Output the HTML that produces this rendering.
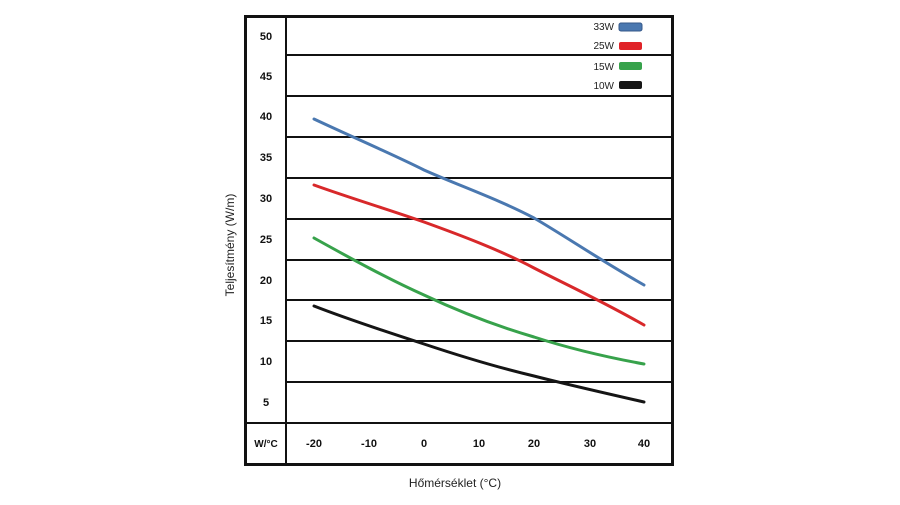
<!DOCTYPE html>
<html><head><meta charset="utf-8"><style>
body{margin:0;background:#fff;}
svg text{font-family:"Liberation Sans",sans-serif;}
.t{font-weight:bold;font-size:11px;text-anchor:middle;fill:#111}
</style></head><body>
<svg width="900" height="500" viewBox="0 0 900 500" xmlns="http://www.w3.org/2000/svg">
<rect x="0" y="0" width="900" height="500" fill="#fff"/>
<g stroke="#111" stroke-width="2">
<line x1="286" y1="16" x2="286" y2="465"/>
<line x1="286" y1="55" x2="673" y2="55"/>
<line x1="286" y1="96" x2="673" y2="96"/>
<line x1="286" y1="137" x2="673" y2="137"/>
<line x1="286" y1="178" x2="673" y2="178"/>
<line x1="286" y1="219" x2="673" y2="219"/>
<line x1="286" y1="260" x2="673" y2="260"/>
<line x1="286" y1="300" x2="673" y2="300"/>
<line x1="286" y1="341" x2="673" y2="341"/>
<line x1="286" y1="382" x2="673" y2="382"/>
<line x1="245" y1="423" x2="673" y2="423"/>
</g>
<rect x="245.5" y="16.5" width="427" height="448" fill="none" stroke="#111" stroke-width="3"/>
<g class="t">
<text x="266" y="40">50</text><text x="266" y="80">45</text><text x="266" y="120">40</text>
<text x="266" y="161">35</text><text x="266" y="202">30</text><text x="266" y="243">25</text>
<text x="266" y="284">20</text><text x="266" y="324">15</text><text x="266" y="365">10</text>
<text x="266" y="406">5</text><text x="266" y="447" style="font-size:10px">W/°C</text>
<text x="314" y="447">-20</text><text x="369" y="447">-10</text><text x="424" y="447">0</text>
<text x="479" y="447">10</text><text x="534" y="447">20</text><text x="590" y="447">30</text><text x="644" y="447">40</text>
</g>
<g fill="none" stroke-width="3" stroke-linecap="round" stroke-linejoin="round">
<path stroke="#4a78b0" d="M314,119 C350,136 390,153 424,170 C460,186 500,200 534,218 C565,236 600,260 644,285"/>
<path stroke="#d8282a" d="M314,185 C350,198 390,210 424,222 C460,235 500,250 534,268 C565,284 600,300 644,325"/>
<path stroke="#37a24b" d="M314,238 C350,258 390,280 424,295 C460,312 500,327 534,337 C565,347 600,356 644,364"/>
<path stroke="#151515" d="M314,306 C350,320 390,333 424,344 C460,356 500,368 534,376 C565,384 600,392 644,402"/>
</g>
<g style="font-size:10px" fill="#222" text-anchor="end">
<text x="614" y="30">33W</text><text x="614" y="49">25W</text>
<text x="614" y="70">15W</text><text x="614" y="89">10W</text>
</g>
<rect x="619" y="23" width="23" height="8" rx="2" fill="#4a78b0" stroke="#35588a"/>
<rect x="619" y="42" width="23" height="8" rx="2" fill="#e02328"/>
<rect x="619" y="62" width="23" height="8" rx="2" fill="#37a24b"/>
<rect x="619" y="81" width="23" height="8" rx="2" fill="#151515"/>
<text x="455" y="487" text-anchor="middle" style="font-size:12px" fill="#222">Hőmérséklet (°C)</text>
<text transform="translate(234,245) rotate(-90)" text-anchor="middle" style="font-size:12px" fill="#222">Teljesítmény (W/m)</text>
</svg>
</body></html>
